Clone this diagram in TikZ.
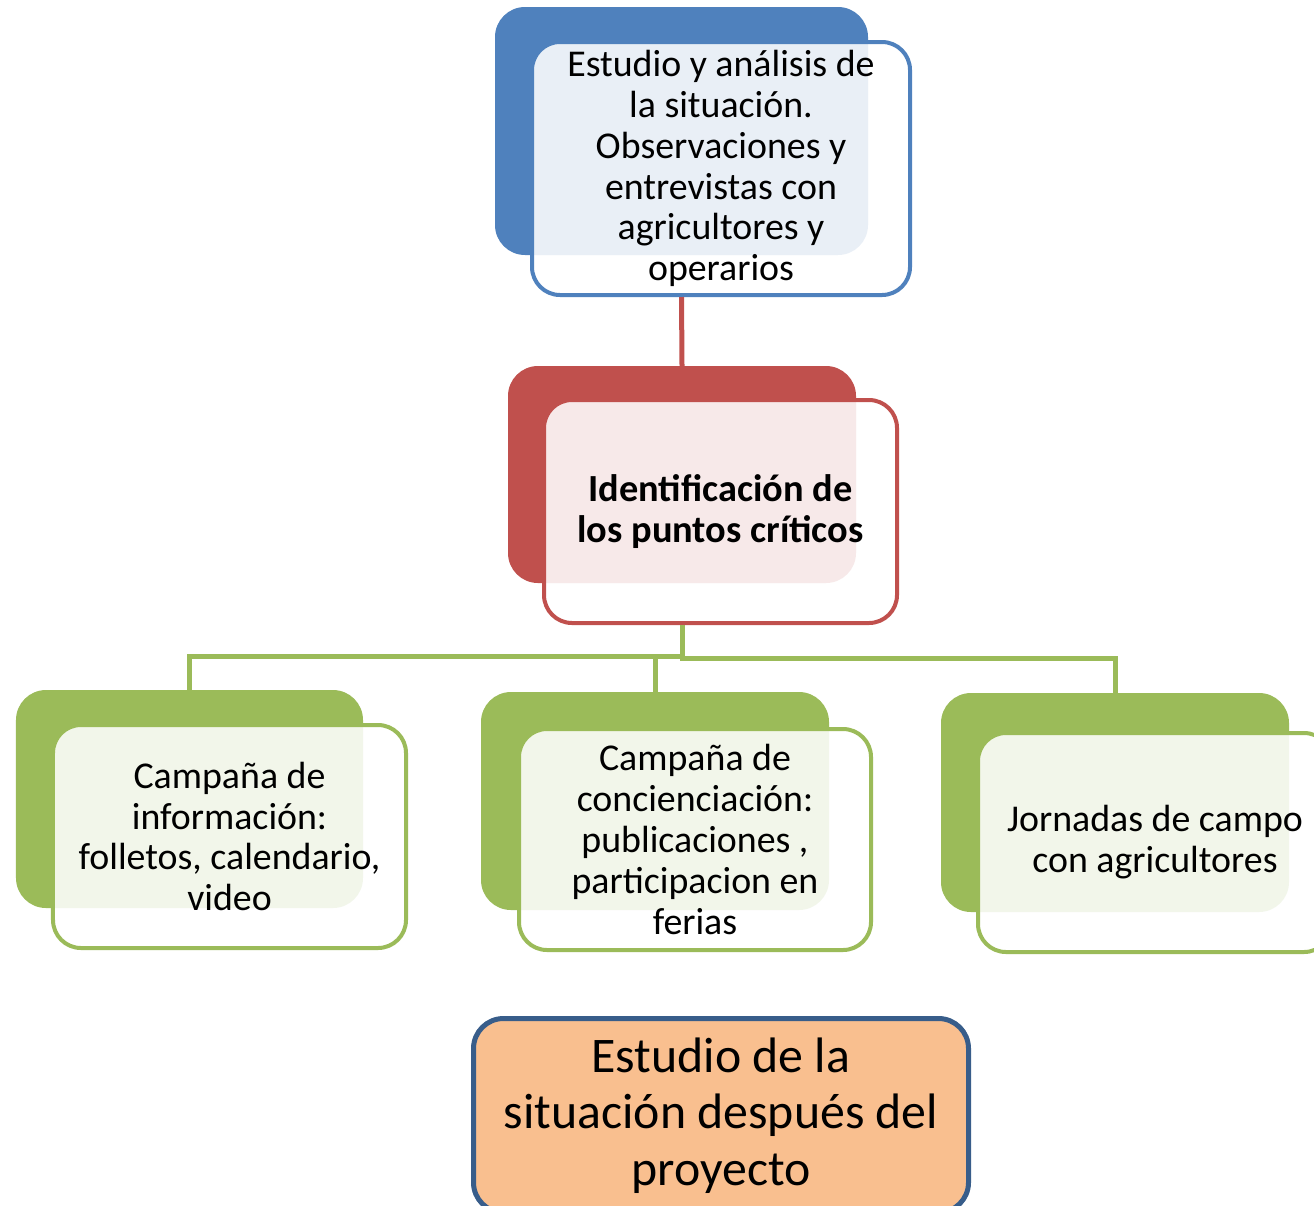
\documentclass[tikz,border=0pt]{standalone}
\usepackage{fontspec}
\setmainfont{Carlito}
\usetikzlibrary{positioning}
\definecolor{azul}{RGB}{79,129,189}
\definecolor{rojo}{RGB}{192,80,77}
\definecolor{verde}{RGB}{155,187,89}
\definecolor{melocoton}{RGB}{249,191,143}
\definecolor{azuloscuro}{RGB}{56,93,138}

\begin{document}
\begin{tikzpicture}[x=1bp,y=-1bp,
	back/.style={fill=#1, rounded corners=30bp, inner sep=0pt},
	front/.style={draw=#1, line width=4bp, fill=white, fill opacity=0.88, text opacity=1,
		rounded corners=28bp, align=center, inner sep=0pt, font=\fontsize{38}{41}\selectfont},
	link/.style={draw=#1, line width=5bp}]
	\useasboundingbox (0,0) rectangle (1314,1205);

	% estudio inicial
	\node[back=azul, minimum width=373bp, minimum height=248bp] (estb) at (681.5,131) {};
	\node[front=azul, minimum width=378bp, minimum height=253bp] (est) at (721,168.5)
		{Estudio y análisis de\\la situación.\\Observaciones y\\entrevistas con\\agricultores y\\operarios};

	% puntos criticos
	\node[back=rojo, minimum width=348bp, minimum height=217bp] (critb) at (682,474.5) {};
	\node[front=rojo, minimum width=353bp, minimum height=223bp, font=\fontsize{38.5}{41}\selectfont\bfseries] (crit) at (720.5,511.5)
		{Identificación de\\los puntos críticos};

	% campanas
	\node[back=verde, minimum width=347bp, minimum height=218bp] (infob) at (189.5,799) {};
	\node[front=verde, minimum width=353bp, minimum height=223bp] (info) at (229.5,836.5)
		{Campaña de\\información:\\folletos, calendario,\\video};

	\node[back=verde, minimum width=348bp, minimum height=218bp] (concb) at (655,801) {};
	\node[front=verde, minimum width=352bp, minimum height=221bp] (conc) at (695,839.5)
		{Campaña de\\concienciación:\\publicaciones ,\\participacion en\\ferias};

	\node[back=verde, minimum width=348bp, minimum height=219bp] (jornb) at (1115,802.5) {};
	\node[front=verde, minimum width=354bp, minimum height=219bp] (jorn) at (1155,842.5)
		{Jornadas de campo\\con agricultores};

	% estudio final
	\node[draw=azuloscuro, line width=5bp, fill=melocoton, rounded corners=30bp, align=center,
		minimum width=495bp, minimum height=194bp, inner sep=0pt,
		font=\fontsize{50}{57}\selectfont] (fin) at (721,1115.5)
		{Estudio de la\\situación después del\\proyecto};

	% conectores
	\draw[link=rojo] (estb.south |- est.south) -- (critb.north);
	\draw[link=verde] (critb.south |- crit.south) -- ++(0,31) -| (infob.north);
	\draw[link=verde] (critb.south |- crit.south) -- ++(0,31) -| (concb.north);
	\draw[link=verde] (critb.south |- crit.south) -- ++(0,33) -| (jornb.north);
\end{tikzpicture}
\end{document}
